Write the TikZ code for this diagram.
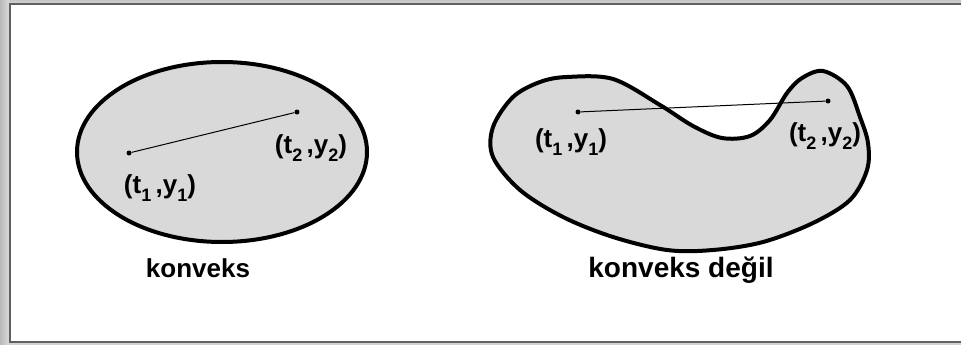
\documentclass[tikz,border=0pt]{standalone}
\usepackage{fontspec}
\setmainfont{Liberation Sans}
\newcommand{\lblsub}[1]{\raisebox{-0.28em}{\fontsize{18}{18}\selectfont #1}}
\tikzset{
  region/.style={draw=black, line width=4pt, fill=gray!30},
  pt/.style={circle, fill=black, inner sep=0pt, minimum size=5pt},
  seg/.style={draw=black, line width=1pt},
  lbl/.style={font=\fontsize{26}{26}\selectfont\bfseries, inner sep=0pt},
  cap1/.style={font=\fontsize{26}{26}\selectfont\bfseries, inner sep=0pt},
  cap2/.style={font=\fontsize{28}{28}\selectfont\bfseries, inner sep=0pt},
  frameline/.style={draw=gray!75!black, line width=2pt}
}
\begin{document}
\begin{tikzpicture}[x=1pt,y=-1pt]
\useasboundingbox (0,0) rectangle (961,345);
% outer frame background
\shade[left color=gray!55, right color=gray!30] (0,0) rectangle (9,345);
\shade[top color=gray!45, bottom color=gray!30] (9,0) rectangle (961,4);
\fill[gray!35] (9,342) rectangle (961,345);
\fill[white] (10,5) rectangle (961,341);
\draw[frameline] (961,4.5) -- (9.5,4.5) -- (9.5,341.5) -- (961,341.5);

% convex ellipse
\draw[region] (222,152) ellipse [x radius=145, y radius=90];
\node[pt] (a1) at (129,153) {};
\node[pt] (a2) at (297,112) {};
\draw[seg] (a1) -- (a2);
\node[lbl] (la1) at (160,188) {(t\lblsub{1}\,,y\lblsub{1})};
\node[lbl] (la2) at (311,148) {(t\lblsub{2}\,,y\lblsub{2})};
\node[cap1] (c1) at (198,268) {konveks};

% non-convex shape
\draw[region] plot[smooth cycle, tension=0.55] coordinates {
 (567,77) (613,79) (660,105) (693,126) (722,138) (750,136) (770,120)
 (787,93) (802,78) (823,71) (847,86) (860,117) (868,143) (867,170)
 (850,200) (813,223) (763,242) (713,250) (667,250) (613,237) (563,217)
 (520,190) (493,157) (493,127) (513,97) (540,82)};
\node[pt] (b1) at (578,112) {};
\node[pt] (b2) at (828,101) {};
\draw[seg] (b1) -- (b2);
\node[lbl] (lb1) at (571,142) {(t\lblsub{1}\,,y\lblsub{1})};
\node[lbl] (lb2) at (825,136) {(t\lblsub{2}\,,y\lblsub{2})};
\node[cap2] (c2) at (681,270) {konveks değil};
\end{tikzpicture}
\end{document}
